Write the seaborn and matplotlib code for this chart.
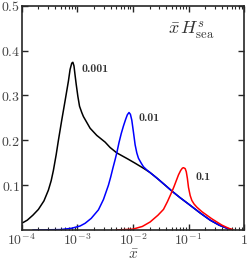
import numpy as np
import pandas as pd
import matplotlib
matplotlib.use("Agg")
import matplotlib.pyplot as plt
import matplotlib.ticker as mticker
import seaborn as sns

# ---- data, x given as log10(x) ----
black_log10x = [-4.00, -3.90, -3.80, -3.70, -3.60, -3.52, -3.47, -3.43, -3.38, -3.34,
                -3.28, -3.22, -3.16, -3.13, -3.10, -3.08, -3.06, -3.04, -3.02, -2.99,
                -2.96, -2.92, -2.89, -2.83, -2.77, -2.65, -2.50, -2.41, -2.29, -2.10,
                -1.96, -1.80, -1.69, -1.57, -1.42, -1.30, -1.15, -1.00, -0.79, -0.61,
                -0.45, -0.31, -0.25]
black_y = [0.015, 0.022, 0.033, 0.046, 0.065, 0.089, 0.110, 0.133, 0.168, 0.200,
           0.245, 0.288, 0.332, 0.358, 0.372, 0.374, 0.366, 0.345, 0.325, 0.298,
           0.276, 0.262, 0.253, 0.240, 0.227, 0.211, 0.196, 0.184, 0.172, 0.159,
           0.149, 0.137, 0.128, 0.116, 0.100, 0.087, 0.072, 0.058, 0.038, 0.022,
           0.011, 0.004, 0.002]

blue_log10x = [-3.80, -3.30, -3.10, -2.95, -2.86, -2.75, -2.62, -2.53, -2.44, -2.40,
               -2.36, -2.32, -2.29, -2.25, -2.21, -2.17, -2.13, -2.10, -2.07, -2.045,
               -2.02, -1.99, -1.96, -1.93, -1.90, -1.85, -1.81, -1.75, -1.69, -1.57,
               -1.42, -1.30, -1.15, -1.00, -0.79, -0.61, -0.45, -0.31, -0.25]
blue_y = [0.000, 0.001, 0.004, 0.009, 0.015, 0.026, 0.045, 0.068, 0.100, 0.118,
          0.138, 0.157, 0.172, 0.195, 0.215, 0.232, 0.247, 0.257, 0.262, 0.258,
          0.245, 0.218, 0.190, 0.172, 0.160, 0.149, 0.141, 0.134, 0.128, 0.116,
          0.100, 0.087, 0.072, 0.058, 0.038, 0.022, 0.011, 0.004, 0.002]

red_log10x = [-2.30, -2.00, -1.83, -1.69, -1.55, -1.45, -1.38, -1.30, -1.26, -1.22,
              -1.18, -1.14, -1.11, -1.09, -1.06, -1.04, -1.02, -1.00, -0.97, -0.94,
              -0.90, -0.85, -0.76, -0.67, -0.58, -0.49, -0.40, -0.28, -0.20]
red_y = [0.000, 0.002, 0.008, 0.018, 0.033, 0.046, 0.063, 0.085, 0.097, 0.110,
         0.123, 0.133, 0.138, 0.139, 0.137, 0.130, 0.115, 0.095, 0.077, 0.066,
         0.058, 0.051, 0.041, 0.033, 0.025, 0.018, 0.011, 0.004, 0.001]

series_labels = ["0.001", "0.01", "0.1"]
series_colors = ["#000000", "#0000ff", "#ff0000"]
label_pos = [(1.17e-3, 0.359), (1.24e-2, 0.250), (1.31e-1, 0.118)]

x_ticks = [1e-4, 1e-3, 1e-2, 1e-1, 1]
x_tick_labels = [r"$10^{-4}$", r"$10^{-3}$", r"$10^{-2}$", r"$10^{-1}$", r"$1$"]
y_ticks = [0.1, 0.2, 0.3, 0.4, 0.5]
y_tick_labels = [r"$0.1$", r"$0.2$", r"$0.3$", r"$0.4$", r"$0.5$"]

sns.set_style("ticks")
plt.rcParams["mathtext.fontset"] = "cm"
plt.rcParams["font.family"] = ["DejaVu Serif"]
plt.rcParams["axes.linewidth"] = 1.2

frames = []
for lab, lx, yy in zip(series_labels,
                       [black_log10x, blue_log10x, red_log10x],
                       [black_y, blue_y, red_y]):
    frames.append(pd.DataFrame({"x": 10 ** np.array(lx), "y": yy, "s": lab}))
df = pd.concat(frames, ignore_index=True)

fig = plt.figure(figsize=(2.51, 2.62), dpi=100)
ax = fig.add_axes([0.0865, 0.122, 0.886, 0.856])

sns.lineplot(data=df, x="x", y="y", hue="s", hue_order=series_labels,
             palette=series_colors, sort=False, estimator=None, linewidth=1.1,
             legend=False, ax=ax)
for ln in ax.get_lines():
    ln.set_solid_joinstyle("round")

ax.set_xscale("log")
ax.set_xlim(1e-4, 1)
ax.set_ylim(0, 0.5)
ax.set_xticks(x_ticks)
ax.set_xticklabels(x_tick_labels)
ax.set_yticks(y_ticks)
ax.set_yticklabels(y_tick_labels)
ax.xaxis.set_minor_locator(mticker.LogLocator(base=10, subs=np.arange(2, 10), numticks=20))
ax.xaxis.set_minor_formatter(mticker.NullFormatter())
ax.tick_params(which="both", direction="in", top=True, right=True, labelsize=10,
               labelcolor="#444444")
ax.tick_params(which="major", length=4, width=1.0)
ax.tick_params(which="minor", length=2, width=0.8)
ax.tick_params(axis="x", pad=2)
ax.tick_params(axis="y", pad=1)
for sp in ax.spines.values():
    sp.set_visible(True)
    sp.set_linewidth(1.2)

ax.set_xlabel(r"$\bar{x}$", fontsize=11, labelpad=0, color="#444444")
ax.set_ylabel("")

for lab, (px, py) in zip(series_labels, label_pos):
    ax.text(px, py, lab, fontsize=8.5, family="cmb10", color="#333333",
            ha="left", va="center")

ax.text(0.762, 0.89, r"$\bar{x}\,H^{s}_{\rm sea}$", transform=ax.transAxes,
        fontsize=13, ha="center", va="center", color="#333333")

fig.savefig("out.png", dpi=100)
